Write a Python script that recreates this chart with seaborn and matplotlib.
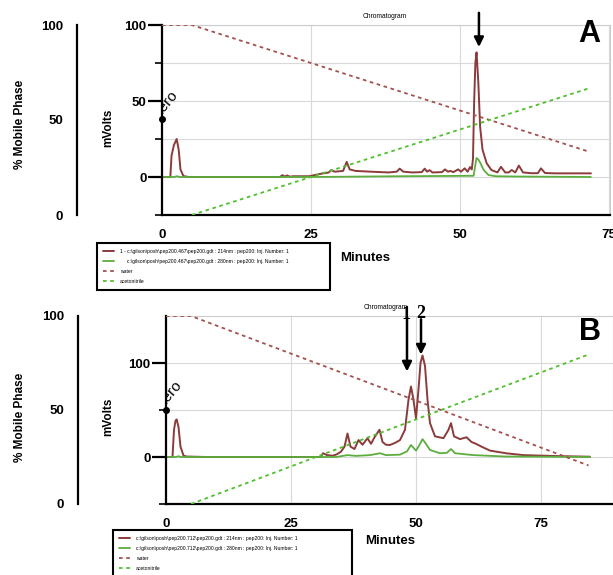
import matplotlib
matplotlib.use('Agg')
import matplotlib.pyplot as plt
import seaborn as sns

# Tamanho da figura em pixels
W, H = 613, 575

# ---- Painel A: cromatograma (minutos, mV) ----
a_t214 = [0, 1.4, 1.6, 2.0, 2.46, 2.8, 3.1, 3.6, 4.5, 19.8,
          20.2, 20.6, 21.0, 21.5, 22.0, 24.7, 26.5, 28.0, 28.4, 29.0,
          30.4, 31.0, 31.5, 32.5, 35.0, 38.0, 39.4, 39.9, 40.5, 42.0,
          43.6, 44.1, 44.5, 44.9, 45.4, 47.0, 47.5, 48.0, 48.4, 48.9,
          49.7, 50.2, 50.8, 51.3, 51.7, 52.0, 52.2, 52.4, 52.6, 52.8,
          53.1, 53.4, 53.8, 54.5, 55.3, 56.3, 56.9, 57.6, 58.2, 58.7,
          59.3, 59.9, 60.6, 62.0, 63.1, 63.6, 64.3, 66.0, 72.0]
a_mv214 = [0, 0, 14, 21, 25, 18, 5, 0.6, 0, 0,
           1.2, 0.3, 1.0, 0.2, 0.5, 0.5, 2.0, 3.0, 4.5, 3.5,
           4.0, 10, 5.0, 4.0, 3.5, 3.0, 3.5, 5.5, 3.5, 3.0,
           3.2, 5.5, 3.5, 4.5, 3.0, 3.2, 5.0, 3.5, 4.0, 3.2,
           5.0, 3.5, 5.7, 3.5, 6.5, 5.0, 12, 50, 75, 82,
           62, 33, 18, 9.0, 4.6, 3.0, 6.7, 3.0, 3.0, 4.6,
           3.0, 7.5, 3.0, 2.5, 2.5, 5.7, 2.6, 2.4, 2.4]
a_t280 = [0, 2.0, 2.5, 3.0, 25, 40, 52.3, 52.6, 52.8, 53.1, 53.4, 54.0, 54.8, 56.0, 60.0, 72.0]
a_mv280 = [0, 0, 0.5, 0, 0, 0.5, 0.8, 8, 12.5, 11.5, 9.5, 4.6, 1.3, 0.5, 0.3, 0]

# gradiente (% fase movel)
a_t_water = [0, 5, 71.5]
a_water = [100, 100, 33.5]
a_t_acn = [5, 71.5]
a_acn = [0, 66.5]

a_labels = ['1 - c:\\gilson\\posh\\pep200.467\\pep200.gdt : 214nm : pep200: Inj. Number: 1',
            '     c:\\gilson\\posh\\pep200.467\\pep200.gdt : 280nm : pep200: Inj. Number: 1',
            'water', 'acetonitrile']

# ---- Painel B ----
b_t214 = [0, 1.3, 1.6, 1.9, 2.13, 2.5, 2.9, 3.5, 4.1, 8,
          31.0, 31.4, 32.2, 33.4, 34.2, 35.0, 35.7, 36.3, 36.9, 37.7,
          38.5, 39.3, 40.3, 41.0, 41.7, 42.7, 43.3, 44.0, 44.8, 45.8,
          46.8, 47.8, 48.5, 49.0, 49.5, 50.0, 50.5, 50.9, 51.3, 51.8,
          52.3, 52.8, 53.8, 55.5, 56.5, 57.0, 57.6, 58.8, 60.1, 61.1,
          62.0, 63.1, 64.8, 68.1, 71.5, 78.1, 84.8]
b_mv214 = [0, 0, 29, 38.5, 40, 32, 11, 1.5, 0.5, 0,
           0, 4, 2, 1.4, 3, 5.7, 11, 25, 11, 8.5,
           18, 13, 20, 14, 21, 29, 16, 13, 12.8, 15,
           18, 29, 61, 75, 61, 41, 72, 100, 108, 97,
           61, 36, 22, 20, 29, 36, 22, 19, 21, 16,
           14, 11, 6.8, 3.9, 2, 1, 0.3]
b_t280 = [0, 2.0, 2.5, 3.0, 34, 36.3, 38, 40.8, 42.8, 44, 46.8, 48.2, 49.0,
          50.0, 50.6, 51.3, 52.0, 52.8, 54.8, 56.2, 57.0, 57.8, 61.5, 68, 84.8]
b_mv280 = [0, 0, 0.8, 0, 0, 2, 1.2, 2, 4, 2, 2.5, 6, 12.8,
           6.8, 12, 19, 14, 7.5, 4, 4.5, 8.5, 4, 2, 0.5, 0]

b_t_water = [0, 5, 84.5]
b_water = [100, 100, 20.5]
b_t_acn = [5, 84.5]
b_acn = [0, 79.5]

b_labels = ['c:\\gilson\\posh\\pep200.712\\pep200.gdt : 214nm : pep200: Inj. Number: 1',
            'c:\\gilson\\posh\\pep200.712\\pep200.gdt : 280nm : pep200: Inj. Number: 1',
            'water', 'acetonitrile']

RED = '#8c3b3b'
GREEN = '#5cae3e'
RED_D = '#a3504e'
GREEN_D = '#4fbf2c'
GRID = '#d9d9d9'

sns.set_style('white')
plt.rcParams['font.family'] = ['Liberation Sans', 'DejaVu Sans']
plt.rcParams['text.color'] = 'black'
plt.rcParams['xtick.color'] = 'black'
plt.rcParams['ytick.color'] = 'black'
plt.rcParams['axes.labelcolor'] = 'black'


def fbox(l, t, r, b):
    return [l / W, 1 - b / H, (r - l) / W, (b - t) / H]


def mobile_axis(fig, box, label_xy):
    mp = fig.add_axes(box)
    mp.set_ylim(0, 100)
    mp.set_xticks([])
    for s in ['top', 'right', 'bottom']:
        mp.spines[s].set_visible(False)
    mp.spines['left'].set_linewidth(1.6)
    mp.spines['left'].set_color('k')
    mp.set_yticks([0, 50, 100])
    mp.set_yticks([25, 75], minor=True)
    mp.tick_params(axis='y', which='major', length=8, width=1.6, pad=2, labelsize=9.5, color='k')
    mp.tick_params(axis='y', which='minor', length=4, width=1.2, color='k')
    for lab in mp.get_yticklabels():
        lab.set_fontweight('bold')
    mp.patch.set_alpha(0)
    fig.text(label_xy[0] / W, 1 - label_xy[1] / H, '% Mobile Phase', rotation=90,
             ha='center', va='center', fontsize=8.5, fontweight='bold')


def chrom_axis(fig, box, xlim, ylim, ymaj, ymin, t214, mv214, t280, mv280,
               tw, water, ta, acn, labels, leg_box, zero_pt):
    ax = fig.add_axes(box)
    sns.lineplot(x=t214, y=mv214, ax=ax, color=RED, lw=1.4)
    sns.lineplot(x=t280, y=mv280, ax=ax, color=GREEN, lw=1.3)
    h214, h280 = ax.lines[0], ax.lines[1]
    ax.set_xlim(*xlim)
    ax.set_ylim(*ylim)
    ax.set_xlabel('')
    ax.set_ylabel('')

    ax.set_yticks(ymaj)
    ax.set_yticks(ymin, minor=True)
    ax.set_xticks([0, 25, 50, 75])
    ax.set_xticks([0], minor=True)
    ax.grid(True, which='both', axis='y', color=GRID, lw=0.8)
    ax.grid(True, which='major', axis='x', color=GRID, lw=0.8)
    ax.set_axisbelow(True)
    ax.tick_params(axis='y', which='major', length=10, width=1.6, labelsize=9.5, pad=1, color='k', left=True)
    ax.tick_params(axis='y', which='minor', length=5, width=1.2, color='k', left=True)
    ax.tick_params(axis='x', which='major', length=0, labelsize=9.5, pad=10, bottom=True)
    ax.tick_params(axis='x', which='minor', length=7, width=1.6, color='k', bottom=True)
    for lab in ax.get_yticklabels() + ax.get_xticklabels():
        lab.set_fontweight('bold')
    for s in ['left', 'bottom']:
        ax.spines[s].set_color('k')
        ax.spines[s].set_linewidth(1.6)
    for s in ['top', 'right']:
        ax.spines[s].set_color('#cccccc')
        ax.spines[s].set_linewidth(0.8)

    # gradiente no eixo de % fase movel
    tx = ax.twinx()
    sns.lineplot(x=tw, y=water, ax=tx, color=RED_D, lw=1.3, linestyle=(0, (2, 2)))
    sns.lineplot(x=ta, y=acn, ax=tx, color=GREEN_D, lw=1.3, linestyle=(0, (2, 2)))
    tx.set_ylim(0, 100)
    tx.set_xlim(*xlim)
    tx.axis('off')
    hw, ha = tx.lines[0], tx.lines[1]

    # marcador "zero"
    ax.plot([0], [zero_pt[1]], 'o', color='k', ms=4, clip_on=False, zorder=5)
    ax.text(-0.5, zero_pt[2], 'zero', rotation=50, rotation_mode='anchor',
            ha='left', va='baseline', fontsize=11, clip_on=True)

    leg = ax.legend(handles=[h214, h280, hw, ha], labels=labels, loc='upper left',
                    bbox_to_anchor=leg_box, bbox_transform=fig.transFigure, mode='expand',
                    fontsize=3.6, handlelength=2.2, handletextpad=1.2, borderpad=1.2,
                    labelspacing=1.0, borderaxespad=0, fancybox=False, framealpha=1)
    leg.get_frame().set_edgecolor('k')
    leg.get_frame().set_linewidth(1.5)
    return ax


fig = plt.figure(figsize=(W / 100, H / 100), dpi=100)

# Painel A
mobile_axis(fig, fbox(77, 25, 78, 215), (20, 124))
axA = chrom_axis(fig, fbox(162, 25, 610, 215), (0, 75.2), (-25, 100), [0, 50, 100], [-25, 25, 75],
                 a_t214, a_mv214, a_t280, a_mv280, a_t_water, a_water, a_t_acn, a_acn, a_labels,
                 (97 / W, 1 - 291 / H, 233 / W, 48 / H), (0, 38, 39))
axA.annotate('', xy=(53.2, 85.5), xytext=(53.2, 108),
             arrowprops=dict(arrowstyle='-|>', color='k', lw=1.8, mutation_scale=14,
                             shrinkA=0, shrinkB=0), annotation_clip=False)
fig.text(108 / W, 1 - 128 / H, 'mVolts', rotation=90, ha='center', va='center',
         fontsize=8.5, fontweight='bold')
fig.text(365 / W, 1 - 258 / H, 'Minutes', ha='center', va='center', fontsize=9.5, fontweight='bold')
fig.text(385 / W, 1 - 17 / H, 'Chromatogram', ha='center', va='center', fontsize=4.8)
fig.text(589 / W, 1 - 34 / H, 'A', ha='center', va='center', fontsize=22, fontweight='bold')

# Painel B
mobile_axis(fig, fbox(78, 316, 79, 504), (20, 417))
axB = chrom_axis(fig, fbox(166, 316, 613, 504), (0, 89.4), (-50, 150), [0, 100], [-50, 50],
                 b_t214, b_mv214, b_t280, b_mv280, b_t_water, b_water, b_t_acn, b_acn, b_labels,
                 (113 / W, 1 - 578 / H, 239 / W, 48 / H), (0, 50, 52))
axB.annotate('', xy=(48.2, 91), xytext=(48.2, 148.7),
             arrowprops=dict(arrowstyle='-|>', color='k', lw=1.8, mutation_scale=14,
                             shrinkA=0, shrinkB=0), annotation_clip=False)
axB.annotate('', xy=(51.0, 109), xytext=(51.0, 146.5),
             arrowprops=dict(arrowstyle='-|>', color='k', lw=1.8, mutation_scale=14,
                             shrinkA=0, shrinkB=0), annotation_clip=False)
axB.text(48.1, 152, '1', ha='center', va='center', fontsize=13, fontweight='bold',
         family=['Liberation Serif', 'DejaVu Serif'])
axB.text(51.0, 153, '2', ha='center', va='center', fontsize=13, fontweight='bold',
         family=['Liberation Serif', 'DejaVu Serif'])
fig.text(108 / W, 1 - 417 / H, 'mVolts', rotation=90, ha='center', va='center',
         fontsize=8.5, fontweight='bold')
fig.text(390 / W, 1 - 541 / H, 'Minutes', ha='center', va='center', fontsize=9.5, fontweight='bold')
fig.text(386 / W, 1 - 308 / H, 'Chromatogram', ha='center', va='center', fontsize=4.8)
fig.text(590 / W, 1 - 332 / H, 'B', ha='center', va='center', fontsize=22, fontweight='bold')

fig.savefig('out.png', dpi=100)
